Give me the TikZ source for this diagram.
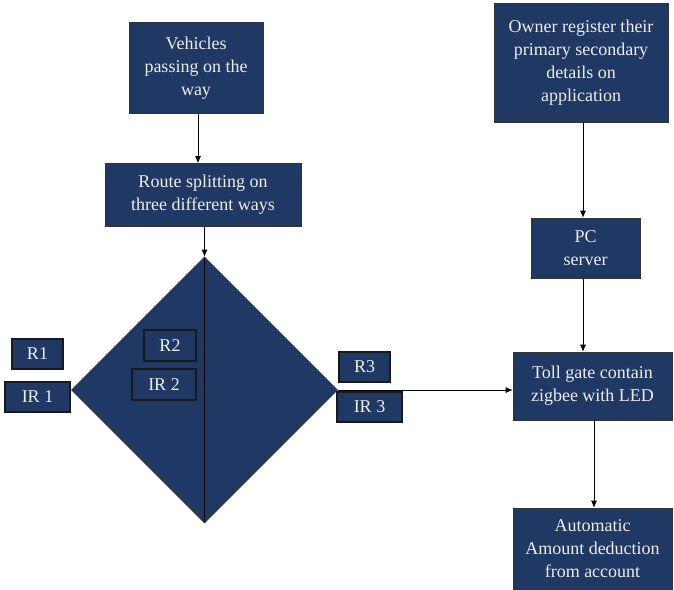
\documentclass[tikz,border=0pt]{standalone}
\usepackage{fontspec}
\setmainfont{Liberation Serif}
\usetikzlibrary{shapes.geometric,arrows.meta}
\definecolor{navy}{RGB}{31,56,100}
\definecolor{paper}{RGB}{238,238,238}

\begin{document}
\begin{tikzpicture}[x=1pt,y=-1pt,->,>={Latex[length=7pt,width=6pt]},draw=black,line width=0.7pt]
    \tikzstyle{block}=[rectangle,draw=black!80,fill=navy,text=paper,align=center,inner sep=0pt,font=\fontsize{18}{23}\selectfont]
    \tikzstyle{tag}=[block,draw=black!90,line width=1.3pt]
    \tikzstyle{splitter}=[diamond,draw=black!80,fill=navy,aspect=1,inner sep=0pt,minimum size=266pt]

    \useasboundingbox (0,0) rectangle (674,589);

    % Left column
    \node[block,minimum width=134pt,minimum height=91pt] (V) at (196,68) {Vehicles\\passing on the\\way};
    \node[block,minimum width=196pt,minimum height=63pt] (S) at (203,195) {Route splitting on\\three different ways};
    \node[splitter] (D) at (204.5,390) {};
    \draw[-] (D.north) -- (D.south);

    % Sensors round the splitter
    \node[tag,minimum width=51pt,minimum height=30pt] (R1) at (37.5,354) {R1};
    \node[tag,minimum width=65pt,minimum height=30pt] (IR1) at (37.5,397) {IR 1};
    \node[tag,minimum width=52pt,minimum height=31pt] (R2) at (170,345.5) {R2};
    \node[tag,minimum width=64pt,minimum height=31pt] (IR2) at (164,384.5) {IR 2};
    \node[tag,minimum width=51pt,minimum height=30pt] (R3) at (364.5,367) {R3};
    \node[tag,minimum width=65pt,minimum height=30pt] (IR3) at (369.5,407) {IR 3};

    % Right column
    \node[block,minimum width=174pt,minimum height=119pt] (O) at (581,62.5) {Owner register their\\primary secondary\\details on\\application};
    \node[block,minimum width=109pt,minimum height=60pt] (P) at (585.5,248) {PC\\server};
    \node[block,minimum width=159pt,minimum height=68pt] (T) at (592.5,386) {Toll gate contain\\zigbee with LED};
    \node[block,minimum width=159pt,minimum height=81pt] (A) at (592.5,548.5) {Automatic\\Amount deduction\\from account};

    % Connections
    \draw (V.south -| 198,0) -- (198,0 |- S.north);
    \draw (S.south -| D.north) -- (D.north);
    \draw (D.east) -- (D.east -| T.west);
    \draw (O.south -| 583,0) -- (583,0 |- P.north);
    \draw (P.south -| 583,0) -- (583,0 |- T.north);
    \draw (T.south -| 594,0) -- (594,0 |- A.north);
\end{tikzpicture}
\end{document}
